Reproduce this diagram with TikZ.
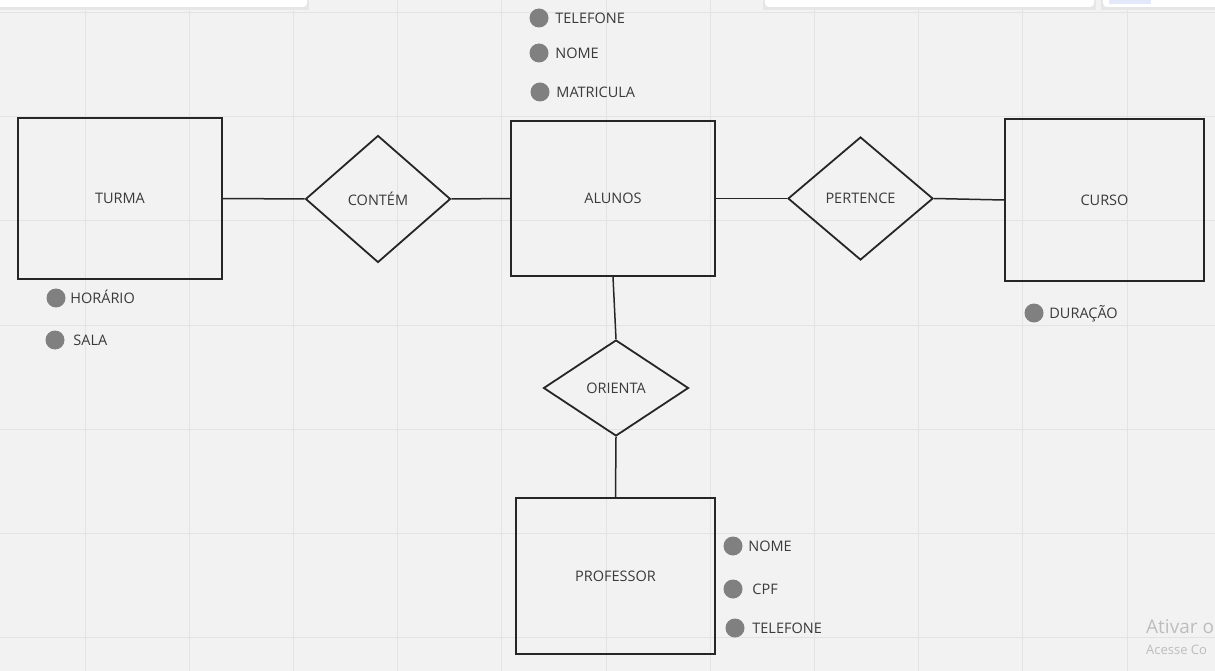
\documentclass[tikz,border=0pt]{standalone}
\usepackage{fontspec}
\setmainfont{Open Sans}
\usetikzlibrary{shapes.geometric,positioning}

\definecolor{fundo}{HTML}{F2F2F2}
\definecolor{grade}{HTML}{E3E3E3}
\definecolor{texto}{HTML}{3A3A3A}
\definecolor{cinzaponto}{HTML}{808080}
\definecolor{aviso}{HTML}{BDBDBD}
\definecolor{azulclaro}{HTML}{E4E8FB}
\definecolor{sombra}{HTML}{E6E6E6}

\tikzset{
  rotulo/.style={text=texto,font=\fontsize{14.5}{17}\selectfont},
  entidade/.style={rotulo,draw=black!85,line width=1.8pt,inner sep=0pt},
  relacao/.style={rotulo,diamond,draw=black!85,line width=1.8pt,inner sep=0pt},
  ligacao/.style={black!85,line width=1.5pt},
  ponto/.style={circle,fill=cinzaponto,minimum size=19pt,inner sep=0pt},
  atributo/.style={rotulo,inner sep=0pt,text height=10.5pt,text depth=0pt},
  barra/.style={fill=white,rounded corners=4pt}
}

\begin{document}
\begin{tikzpicture}[x=1pt,y=-1pt]

\clip (0,0) rectangle (1215,671);
\fill[fundo] (0,0) rectangle (1215,671);

\foreach \k in {0,...,10}
    \draw[grade,line width=1pt] ({85+104.2*\k},0) -- ++(0,671);
\foreach \k in {0,...,6}
    \draw[grade,line width=1pt] (0,{13+104*\k}) -- ++(1215,0);

\fill[sombra] (-6,-10) rectangle (309,10);
\fill[barra] (-6,-10) rectangle (307,7);
\fill[sombra] (763,-10) rectangle (1096,10);
\fill[barra] (765,-10) rectangle (1094,7);
\fill[sombra] (1101,-10) rectangle (1222,10);
\fill[barra] (1103,-10) rectangle (1222,7);
\fill[azulclaro] (1109,-5) rectangle (1151,4);

\newcommand\atributo[5]
{
    \node[ponto] (#1) at (#2,#3) {};
    \node[atributo,right=#4 of #1] (#1-t) {#5};
}

\node[entidade,minimum width=204pt,minimum height=161pt] (turma) at (120,198.5) {TURMA};
\node[relacao,minimum width=145pt,minimum height=127pt] (contem) at (378,199) {CONTÉM};
\node[entidade,minimum width=204pt,minimum height=155pt] (alunos) at (613,198.5) {ALUNOS};
\node[relacao,minimum width=145pt,minimum height=123pt] (pertence) at (860.5,198.5) {PERTENCE};
\node[entidade,minimum width=199pt,minimum height=162pt] (curso) at (1104.5,200) {CURSO};
\node[relacao,minimum width=145pt,minimum height=96pt] (orienta) at (616,388) {ORIENTA};
\node[entidade,minimum width=199pt,minimum height=156pt] (professor) at (615.5,576) {PROFESSOR};

\draw[ligacao] (turma.east) -- (contem.west);
\draw[ligacao] (contem.east) -- (alunos.west);
\draw[ligacao] (alunos.east) -- (pertence.west);
\draw[ligacao] (pertence.east) -- (curso.west);
\draw[ligacao] (alunos.south) -- (orienta.north);
\draw[ligacao] (orienta.south) -- (professor.north);

\atributo{al-telefone}{539}{18}{6.5pt}{TELEFONE}
\atributo{al-nome}{539}{53}{6.5pt}{NOME}
\atributo{al-matricula}{540}{92}{6.5pt}{MATRICULA}
\atributo{tu-horario}{56}{298}{4.5pt}{HORÁRIO}
\atributo{tu-sala}{55}{340}{8.5pt}{SALA}
\atributo{cu-duracao}{1034}{313}{5.5pt}{DURAÇÃO}
\atributo{pr-nome}{733}{546}{5.5pt}{NOME}
\atributo{pr-cpf}{733}{589}{9.5pt}{CPF}
\atributo{pr-telefone}{735}{628}{7.5pt}{TELEFONE}

\node[anchor=base west,inner sep=0pt,text=aviso,font=\fontsize{19}{22}\selectfont] (ativar) at (1146,633) {Ativar o};
\node[anchor=base west,inner sep=0pt,text=aviso,font=\fontsize{13}{15}\selectfont] (acesse) at (1146,654) {Acesse Co};

\end{tikzpicture}
\end{document}
